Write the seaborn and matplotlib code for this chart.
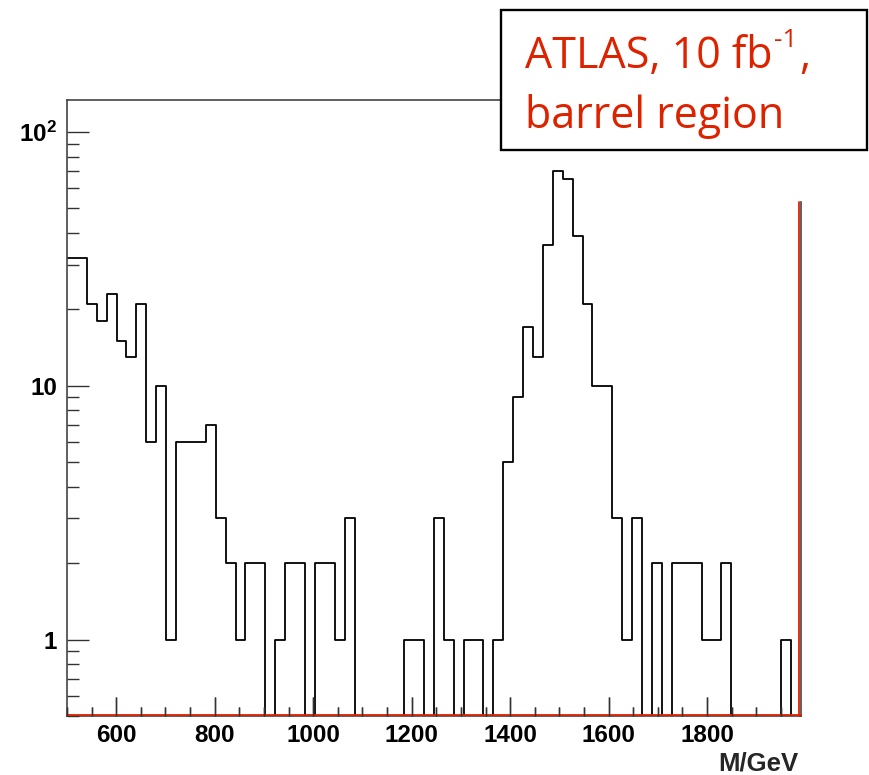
import numpy as np
import pandas as pd
import matplotlib
matplotlib.use("Agg")
import matplotlib.pyplot as plt
import matplotlib.ticker as mticker
import matplotlib.transforms as mtransforms
from matplotlib.patches import Rectangle
import seaborn as sns

# histogram: 74 bins between 500 and 1990 GeV
bin_low = 500
bin_high = 1990
n_bins = 74
counts = [32, 32, 21, 18, 23, 15, 13, 21, 6, 10,
          1, 6, 6, 6, 7, 3, 2, 1, 2, 2,
          0, 1, 2, 2, 0, 2, 2, 1, 3, 0,
          0, 0, 0, 0, 1, 1, 0, 3, 1, 0,
          1, 1, 0, 1, 5, 9, 17, 13, 36, 70,
          65, 39, 21, 10, 10, 3, 1, 3, 0, 2,
          0, 2, 2, 2, 1, 1, 2, 0, 0, 0,
          0, 0, 1, 0]
red_edge_height = 53

x_ticks = [600, 800, 1000, 1200, 1400, 1600, 1800]
y_ticks = [1, 10, 100]
y_labels = ["1", "10", r"$\mathbf{10^{2}}$"]
y_range = (0.5, 134)

sns.set_style("ticks", {"xtick.direction": "in", "ytick.direction": "in",
                        "xtick.bottom": True, "ytick.left": True, "axes.axisbelow": False})
plt.rcParams["font.family"] = ["Liberation Sans", "DejaVu Sans"]
plt.rcParams["font.weight"] = "bold"
plt.rcParams["mathtext.fontset"] = "custom"
plt.rcParams["mathtext.bf"] = "Liberation Sans:bold"
plt.rcParams["mathtext.rm"] = "Liberation Sans:bold"
plt.rcParams.update({
	"xtick.major.size": 13.5, "xtick.minor.size": 6.7,
	"ytick.major.size": 16, "ytick.minor.size": 8.4,
	"xtick.major.width": 1, "xtick.minor.width": 1,
	"ytick.major.width": 1, "ytick.minor.width": 1,
	"xtick.color": "#333333", "ytick.color": "#333333",
	"xtick.labelcolor": "black", "ytick.labelcolor": "black",
	"xtick.labelsize": 17.5, "ytick.labelsize": 17.5,
	"xtick.major.pad": 6, "ytick.major.pad": 7,
	"xtick.minor.visible": True, "ytick.minor.visible": True,
})

edges = np.linspace(bin_low, bin_high, n_bins + 1)
df = pd.DataFrame({"m": (edges[:-1] + edges[1:]) / 2, "n": counts})

fig = plt.figure(figsize=(8.7, 7.75), dpi=100)
ax = fig.add_axes([0.077, 0.0761, 0.8433, 0.7953])

sns.histplot(data=df, x="m", weights="n", bins=list(edges), element="step", fill=False,
             color="black", linewidth=1.3, ax=ax)
ax.set_yscale("log")
ax.set_xlim(bin_low, bin_high)
ax.set_ylim(y_range)
ax.set_xticks(x_ticks)
ax.xaxis.set_minor_locator(mticker.MultipleLocator(50))
ax.set_yticks(y_ticks)
ax.set_yticklabels(y_labels)
ax.yaxis.set_minor_locator(mticker.LogLocator(base=10, subs=np.arange(2, 10)))
ax.yaxis.set_minor_formatter(mticker.NullFormatter())

# red outline along the bottom and right edge, just inside the frame
up = mtransforms.offset_copy(ax.transData, fig=fig, x=0, y=1.5, units="dots")
left = mtransforms.offset_copy(ax.transData, fig=fig, x=-1.5, y=0, units="dots")
ax.plot([bin_low, bin_high], [y_range[0], y_range[0]], color="#e02000", lw=1.3,
        transform=up, zorder=3, clip_on=False)
ax.plot([bin_high, bin_high], [y_range[0], red_edge_height], color="#e02000", lw=1.3,
        transform=left, zorder=3, clip_on=False)

for s in ["left", "top", "bottom", "right"]:
	ax.spines[s].set_color("#444444")
	ax.spines[s].set_linewidth(1.2)
ax.spines["right"].set_bounds(y_range[0], red_edge_height)

ax.set_ylabel("")
ax.set_xlabel("M/GeV", fontsize=18.5, fontweight="bold", ha="right")
ax.xaxis.set_label_coords(0.997, -0.058)

# tick marks of the x axis on a twin axes (bottom, inward, no labels)
axb = ax.twiny()
axb.set_xlim(bin_low, bin_high)
axb.set_xticks(x_ticks)
axb.xaxis.set_minor_locator(mticker.MultipleLocator(50))
axb.xaxis.set_ticks_position("bottom")
axb.tick_params(axis="x", which="major", direction="in", length=13.5, width=1, color="#333333",
                bottom=True, top=False, labelbottom=False, labeltop=False)
axb.tick_params(axis="x", which="minor", direction="in", length=6.7, width=1, color="#333333",
                bottom=True, top=False, labelbottom=False, labeltop=False)
for s in axb.spines.values():
	s.set_visible(False)
axb.patch.set_visible(False)

# annotation box
fig.patches.append(Rectangle((0.5759, 0.8065), 0.4203, 0.1806, transform=fig.transFigure,
                             facecolor="white", edgecolor="black", lw=1.7, zorder=5))
red = "#dd2200"
t1 = fig.text(0.6034, 0.9123, "ATLAS, 10 fb", color=red, fontsize=31, fontweight="normal",
              family="Open Sans", va="baseline", zorder=6)
fig.canvas.draw()
bb = t1.get_window_extent()
t2 = fig.text(bb.x1 / fig.bbox.width + 0.002, 0.9123 + 0.027, "-1", color=red, fontsize=19,
              fontweight="normal", family="Open Sans", va="baseline", zorder=6)
fig.canvas.draw()
bb2 = t2.get_window_extent()
fig.text(bb2.x1 / fig.bbox.width + 0.002, 0.9123, ",", color=red, fontsize=31,
         fontweight="normal", family="Open Sans", va="baseline", zorder=6)
fig.text(0.6034, 0.8348, "barrel region", color=red, fontsize=31, fontweight="normal",
         family="Open Sans", va="baseline", zorder=6)

fig.savefig("out.png", dpi=100)
